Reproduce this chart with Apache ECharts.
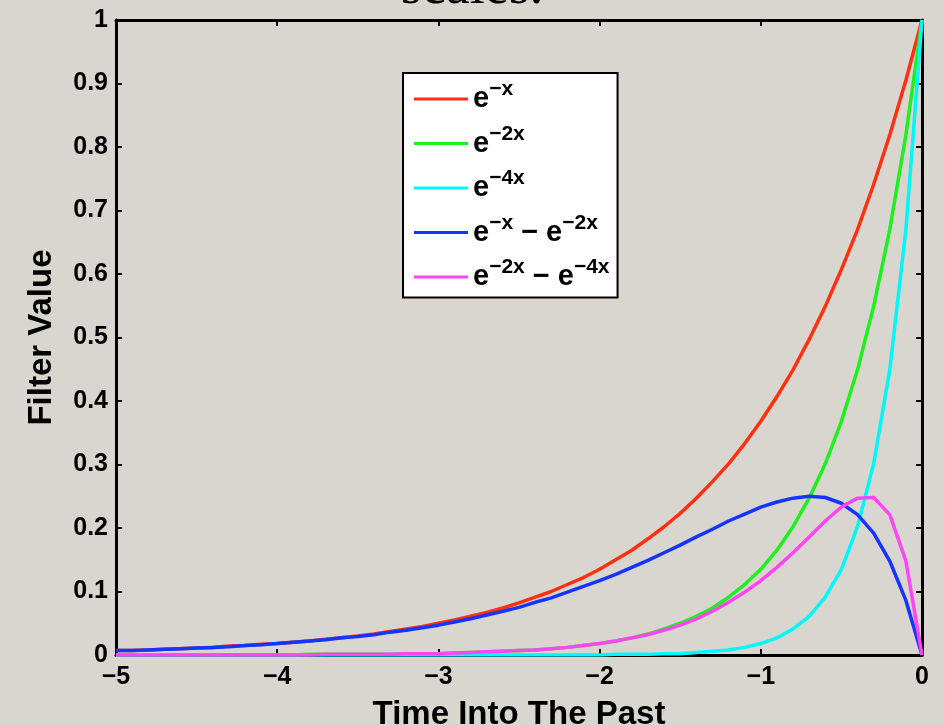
<!DOCTYPE html>
<html>
<head>
<meta charset="utf-8">
<script src="https://cdn.jsdelivr.net/npm/echarts@6/dist/echarts.min.js"></script>
<style>
html,body{margin:0;padding:0;background:#d9d6d0;}
#chart{width:944px;height:725px;}
</style>
</head>
<body>
<div id="chart"></div>
<script>
// Time into the past (x axis)
const timeValues = [-5.0,-4.9,-4.8,-4.7,-4.6,-4.5,-4.4,-4.3,-4.2,-4.1,-4.0,-3.9,-3.8,-3.7,-3.6,-3.5,-3.4,-3.3,-3.2,-3.1,-3.0,-2.9,-2.8,-2.7,-2.6,-2.5,-2.4,-2.3,-2.2,-2.1,-2.0,-1.9,-1.8,-1.7,-1.6,-1.5,-1.4,-1.3,-1.2,-1.1,-1.0,-0.9,-0.8,-0.7,-0.6,-0.5,-0.4,-0.3,-0.2,-0.1,0.0];

const seriesNames = ['e^-x','e^-2x','e^-4x','e^-x - e^-2x','e^-2x - e^-4x'];
const seriesColors = ['#ff3010','#1ef01e','#00f8f8','#1634ff','#ff44f4'];

const redValues = [0.007,0.007,0.008,0.009,0.010,0.011,0.012,0.014,0.015,0.017,0.018,0.020,0.022,0.025,0.027,0.030,0.033,0.037,0.041,0.045,0.050,0.055,0.061,0.067,0.074,0.082,0.091,0.100,0.111,0.122,0.135,0.150,0.165,0.183,0.202,0.223,0.247,0.273,0.301,0.333,0.368,0.407,0.449,0.497,0.549,0.607,0.670,0.741,0.819,0.905,1.000];
const greenValues = [0.000,0.000,0.000,0.000,0.000,0.000,0.000,0.000,0.000,0.000,0.000,0.000,0.001,0.001,0.001,0.001,0.001,0.001,0.002,0.002,0.002,0.003,0.004,0.005,0.006,0.007,0.008,0.010,0.012,0.015,0.018,0.022,0.027,0.033,0.041,0.050,0.061,0.074,0.091,0.111,0.135,0.165,0.202,0.247,0.301,0.368,0.449,0.549,0.670,0.819,1.000];
const cyanValues = [0.000,0.000,0.000,0.000,0.000,0.000,0.000,0.000,0.000,0.000,0.000,0.000,0.000,0.000,0.000,0.000,0.000,0.000,0.000,0.000,0.000,0.000,0.000,0.000,0.000,0.000,0.000,0.000,0.000,0.000,0.000,0.001,0.001,0.001,0.002,0.002,0.004,0.006,0.008,0.012,0.018,0.027,0.041,0.061,0.091,0.135,0.202,0.301,0.449,0.670,1.000];
const blueValues = [0.007,0.007,0.008,0.009,0.010,0.011,0.012,0.013,0.015,0.016,0.018,0.020,0.022,0.024,0.027,0.029,0.032,0.036,0.039,0.043,0.047,0.052,0.057,0.063,0.069,0.075,0.083,0.090,0.099,0.108,0.117,0.127,0.138,0.149,0.161,0.173,0.186,0.198,0.211,0.222,0.233,0.241,0.247,0.250,0.248,0.239,0.221,0.192,0.148,0.086,0.000];
const magentaValues = [0.000,0.000,0.000,0.000,0.000,0.000,0.000,0.000,0.000,0.000,0.000,0.000,0.000,0.001,0.001,0.001,0.001,0.001,0.002,0.002,0.002,0.003,0.004,0.005,0.006,0.007,0.008,0.010,0.012,0.015,0.018,0.022,0.027,0.032,0.039,0.047,0.057,0.069,0.083,0.099,0.117,0.138,0.161,0.186,0.211,0.233,0.247,0.248,0.221,0.148,0.000];

const xTickValues = [-5,-4,-3,-2,-1,0];
const yTickValues = [0,0.1,0.2,0.3,0.4,0.5,0.6,0.7,0.8,0.9,1];

const legendLabels = {
  'e^-x': '{e|e}{s|−x}',
  'e^-2x': '{e|e}{s|−2x}',
  'e^-4x': '{e|e}{s|−4x}',
  'e^-x - e^-2x': '{e|e}{s|−x}{e| − e}{s|−2x}',
  'e^-2x - e^-4x': '{e|e}{s|−2x}{e| − e}{s|−4x}'
};

const FONT = '"Liberation Sans", Arial, Helvetica, sans-serif';
const allValues = [redValues, greenValues, cyanValues, blueValues, magentaValues];

function pairs(vals) { return timeValues.map((t, i) => [t, vals[i]]); }

const axisLineStyle = { show: true, onZero: false, lineStyle: { color: '#000', width: 3 } };
const tickStyle = { show: true, inside: true, length: 6, lineStyle: { color: '#000', width: 2 } };

const chart = echarts.init(document.getElementById('chart'), null, { renderer: 'canvas' });
chart.setOption({
  backgroundColor: '#d9d6d0',
  animation: false,
  grid: { left: 116, top: 20, right: 22, bottom: 70, containLabel: false, outerBoundsMode: 'none' },
  graphic: [{
    type: 'text', x: 472, y: -11, silent: true,
    style: { text: 'scales.', font: '54px "Liberation Serif", "DejaVu Serif", serif', fill: '#000', textAlign: 'center', textVerticalAlign: 'middle' }
  }],
  legend: {
    orient: 'vertical', left: 403, top: 73,
    backgroundColor: '#ffffff', borderColor: '#000', borderWidth: 2, borderRadius: 0,
    padding: [6, 8, 6, 11], itemGap: 10, itemWidth: 54, itemHeight: 3, icon: 'rect',
    itemStyle: { borderWidth: 0 },
    data: seriesNames,
    formatter: name => legendLabels[name],
    textStyle: {
      color: '#000',
      rich: {
        e: { fontSize: 29, fontWeight: 'bold', fontFamily: FONT, color: '#000', lineHeight: 40 },
        s: { fontSize: 21, fontWeight: 'bold', fontFamily: FONT, color: '#000', lineHeight: 20, verticalAlign: 'top' }
      }
    }
  },
  xAxis: [{
    type: 'value', position: 'bottom', min: -5, max: 0, interval: 1,
    axisLine: axisLineStyle, axisTick: tickStyle, splitLine: { show: false },
    axisLabel: { color: '#000', fontSize: 25, fontWeight: 'bold', fontFamily: FONT, margin: 10,
      formatter: v => String(v).replace('-', '−') },
    name: 'Time Into The Past', nameLocation: 'middle', nameGap: 43,
    nameTextStyle: { color: '#000', fontSize: 33, fontWeight: 'bold', fontFamily: FONT }
  }, {
    type: 'value', position: 'top', min: -5, max: 0, interval: 1,
    axisLine: axisLineStyle, axisTick: tickStyle, splitLine: { show: false },
    axisLabel: { show: false }
  }],
  yAxis: [{
    type: 'value', position: 'left', min: 0, max: 1, interval: 0.1,
    axisLine: axisLineStyle, axisTick: tickStyle, splitLine: { show: false },
    axisLabel: { color: '#000', fontSize: 25, fontWeight: 'bold', fontFamily: FONT, margin: 8 },
    name: 'Filter Value', nameLocation: 'middle', nameGap: 58, nameRotate: 90,
    nameTextStyle: { color: '#000', fontSize: 33, fontWeight: 'bold', fontFamily: FONT }
  }, {
    type: 'value', position: 'right', min: 0, max: 1, interval: 0.1,
    axisLine: axisLineStyle, axisTick: tickStyle, splitLine: { show: false },
    axisLabel: { show: false }
  }],
  series: seriesNames.map((name, i) => ({
    name: name, type: 'line', xAxisIndex: 0, yAxisIndex: 0,
    data: pairs(allValues[i]),
    showSymbol: false, symbol: 'none', smooth: false,
    color: seriesColors[i],
    lineStyle: { color: seriesColors[i], width: 3.5 },
    z: 2 + i
  }))
});
</script>
</body>
</html>
